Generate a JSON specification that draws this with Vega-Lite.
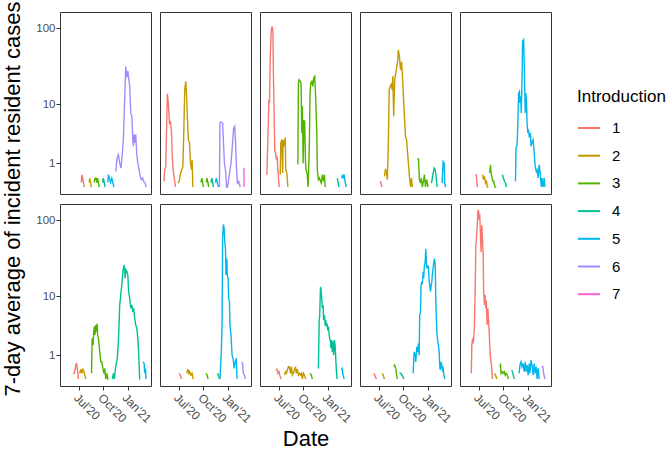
{
  "$schema": "https://vega.github.io/schema/vega-lite/v6.json",
  "padding": {"left": 1, "top": 1, "right": 0, "bottom": 0},
  "bounds": "flush",
  "data": {
    "values": [
      {"r":1,"c":1,"i":1,"d":"2020-07-09","v":0.14},{"r":1,"c":1,"i":1,"d":"2020-07-11","v":0.43},{"r":1,"c":1,"i":1,"d":"2020-07-14","v":0.29},{"r":1,"c":1,"i":1,"d":"2020-07-17","v":0.14},{"r":1,"c":1,"i":1,"d":"2020-07-20","v":0},
      {"r":1,"c":1,"i":2,"d":"2020-08-08","v":0.14},{"r":1,"c":1,"i":2,"d":"2020-08-10","v":0.29},{"r":1,"c":1,"i":2,"d":"2020-08-13","v":0.14},{"r":1,"c":1,"i":2,"d":"2020-08-16","v":0},
      {"r":1,"c":1,"i":3,"d":"2020-08-27","v":0.14},{"r":1,"c":1,"i":3,"d":"2020-08-30","v":0.29},{"r":1,"c":1,"i":3,"d":"2020-09-03","v":0.29},{"r":1,"c":1,"i":3,"d":"2020-09-06","v":0.14},{"r":1,"c":1,"i":3,"d":"2020-09-09","v":0.29},{"r":1,"c":1,"i":3,"d":"2020-09-12","v":0.14},{"r":1,"c":1,"i":3,"d":"2020-09-15","v":0},
      {"r":1,"c":1,"i":4,"d":"2020-09-28","v":0.14},{"r":1,"c":1,"i":4,"d":"2020-10-01","v":0.29},{"r":1,"c":1,"i":4,"d":"2020-10-04","v":0.14},{"r":1,"c":1,"i":4,"d":"2020-10-07","v":0},
      {"r":1,"c":1,"i":5,"d":"2020-10-18","v":0.14},{"r":1,"c":1,"i":5,"d":"2020-10-20","v":0.43},{"r":1,"c":1,"i":5,"d":"2020-10-24","v":0.29},{"r":1,"c":1,"i":5,"d":"2020-10-28","v":0.14},{"r":1,"c":1,"i":5,"d":"2020-11-02","v":0.29},{"r":1,"c":1,"i":5,"d":"2020-11-06","v":0.14},{"r":1,"c":1,"i":5,"d":"2020-11-10","v":0},
      {"r":1,"c":1,"i":6,"d":"2020-11-17","v":0.57},{"r":1,"c":1,"i":6,"d":"2020-11-22","v":1.32},{"r":1,"c":1,"i":6,"d":"2020-11-27","v":1.55},{"r":1,"c":1,"i":6,"d":"2020-12-02","v":1.0},{"r":1,"c":1,"i":6,"d":"2020-12-07","v":0.73},{"r":1,"c":1,"i":6,"d":"2020-12-12","v":1.68},{"r":1,"c":1,"i":6,"d":"2020-12-16","v":2.95},{"r":1,"c":1,"i":6,"d":"2020-12-20","v":9.4},{"r":1,"c":1,"i":6,"d":"2020-12-23","v":19.5},{"r":1,"c":1,"i":6,"d":"2020-12-25","v":32},{"r":1,"c":1,"i":6,"d":"2020-12-29","v":23},{"r":1,"c":1,"i":6,"d":"2021-01-02","v":28},{"r":1,"c":1,"i":6,"d":"2021-01-05","v":23},{"r":1,"c":1,"i":6,"d":"2021-01-09","v":17.6},{"r":1,"c":1,"i":6,"d":"2021-01-13","v":7.6},{"r":1,"c":1,"i":6,"d":"2021-01-17","v":6.8},{"r":1,"c":1,"i":6,"d":"2021-01-21","v":2.95},{"r":1,"c":1,"i":6,"d":"2021-01-23","v":2.26},{"r":1,"c":1,"i":6,"d":"2021-01-26","v":3.6},{"r":1,"c":1,"i":6,"d":"2021-01-30","v":2.6},{"r":1,"c":1,"i":6,"d":"2021-02-01","v":3.6},{"r":1,"c":1,"i":6,"d":"2021-02-05","v":1.55},{"r":1,"c":1,"i":6,"d":"2021-02-09","v":1.0},{"r":1,"c":1,"i":6,"d":"2021-02-14","v":0.65},{"r":1,"c":1,"i":6,"d":"2021-02-18","v":0.36},{"r":1,"c":1,"i":6,"d":"2021-02-22","v":0.24},{"r":1,"c":1,"i":6,"d":"2021-02-27","v":0.3},{"r":1,"c":1,"i":6,"d":"2021-03-03","v":0.18},{"r":1,"c":1,"i":6,"d":"2021-03-08","v":0.12},{"r":1,"c":1,"i":6,"d":"2021-03-13","v":0},

      {"r":1,"c":2,"i":1,"d":"2020-05-04","v":0.18},{"r":1,"c":2,"i":1,"d":"2020-05-07","v":0.65},{"r":1,"c":2,"i":1,"d":"2020-05-11","v":0.82},{"r":1,"c":2,"i":1,"d":"2020-05-15","v":6.8},{"r":1,"c":2,"i":1,"d":"2020-05-17","v":14},{"r":1,"c":2,"i":1,"d":"2020-05-21","v":10},{"r":1,"c":2,"i":1,"d":"2020-05-25","v":5.4},{"r":1,"c":2,"i":1,"d":"2020-05-29","v":5.6},{"r":1,"c":2,"i":1,"d":"2020-06-02","v":3.8},{"r":1,"c":2,"i":1,"d":"2020-06-04","v":1.68},{"r":1,"c":2,"i":1,"d":"2020-06-08","v":0.65},{"r":1,"c":2,"i":1,"d":"2020-06-12","v":0.3},{"r":1,"c":2,"i":1,"d":"2020-06-17","v":0},
      {"r":1,"c":2,"i":2,"d":"2020-06-26","v":0.12},{"r":1,"c":2,"i":2,"d":"2020-07-01","v":0.18},{"r":1,"c":2,"i":2,"d":"2020-07-06","v":0.5},{"r":1,"c":2,"i":2,"d":"2020-07-11","v":0.65},{"r":1,"c":2,"i":2,"d":"2020-07-15","v":0.82},{"r":1,"c":2,"i":2,"d":"2020-07-19","v":4.8},{"r":1,"c":2,"i":2,"d":"2020-07-22","v":15.9},{"r":1,"c":2,"i":2,"d":"2020-07-26","v":20.5},{"r":1,"c":2,"i":2,"d":"2020-07-29","v":13},{"r":1,"c":2,"i":2,"d":"2020-08-02","v":5.4},{"r":1,"c":2,"i":2,"d":"2020-08-05","v":2.95},{"r":1,"c":2,"i":2,"d":"2020-08-09","v":2.6},{"r":1,"c":2,"i":2,"d":"2020-08-13","v":1.0},{"r":1,"c":2,"i":2,"d":"2020-08-17","v":0.65},{"r":1,"c":2,"i":2,"d":"2020-08-19","v":1.2},{"r":1,"c":2,"i":2,"d":"2020-08-22","v":0},
      {"r":1,"c":2,"i":3,"d":"2020-09-22","v":0.14},{"r":1,"c":2,"i":3,"d":"2020-09-25","v":0.29},{"r":1,"c":2,"i":3,"d":"2020-09-28","v":0.14},{"r":1,"c":2,"i":3,"d":"2020-10-01","v":0},
      {"r":1,"c":2,"i":3,"s":1,"d":"2020-10-12","v":0.14},{"r":1,"c":2,"i":3,"s":1,"d":"2020-10-15","v":0.29},{"r":1,"c":2,"i":3,"s":1,"d":"2020-10-18","v":0.14},{"r":1,"c":2,"i":3,"s":1,"d":"2020-10-21","v":0},
      {"r":1,"c":2,"i":4,"d":"2020-10-30","v":0.14},{"r":1,"c":2,"i":4,"d":"2020-11-02","v":0.29},{"r":1,"c":2,"i":4,"d":"2020-11-05","v":0.14},{"r":1,"c":2,"i":4,"d":"2020-11-08","v":0},
      {"r":1,"c":2,"i":5,"d":"2020-11-16","v":0.14},{"r":1,"c":2,"i":5,"d":"2020-11-19","v":0.29},{"r":1,"c":2,"i":5,"d":"2020-11-23","v":0.14},{"r":1,"c":2,"i":5,"d":"2020-11-27","v":0},
      {"r":1,"c":2,"i":6,"d":"2020-12-01","v":0},{"r":1,"c":2,"i":6,"d":"2020-12-03","v":5.4},{"r":1,"c":2,"i":6,"d":"2020-12-07","v":5.6},{"r":1,"c":2,"i":6,"d":"2020-12-13","v":5.4},{"r":1,"c":2,"i":6,"d":"2020-12-17","v":2.26},{"r":1,"c":2,"i":6,"d":"2020-12-20","v":1.0},{"r":1,"c":2,"i":6,"d":"2020-12-24","v":0.65},{"r":1,"c":2,"i":6,"d":"2020-12-28","v":0},{"r":1,"c":2,"i":6,"d":"2021-01-01","v":0},{"r":1,"c":2,"i":6,"d":"2021-01-05","v":0.24},{"r":1,"c":2,"i":6,"d":"2021-01-10","v":0.65},{"r":1,"c":2,"i":6,"d":"2021-01-14","v":1.0},{"r":1,"c":2,"i":6,"d":"2021-01-19","v":2.26},{"r":1,"c":2,"i":6,"d":"2021-01-24","v":4.5},{"r":1,"c":2,"i":6,"d":"2021-01-28","v":4.8},{"r":1,"c":2,"i":6,"d":"2021-02-01","v":2.26},{"r":1,"c":2,"i":6,"d":"2021-02-03","v":1.0},{"r":1,"c":2,"i":6,"d":"2021-02-07","v":0.12},{"r":1,"c":2,"i":6,"d":"2021-02-12","v":0.18},{"r":1,"c":2,"i":6,"d":"2021-02-18","v":0},
      {"r":1,"c":2,"i":7,"d":"2021-03-01","v":0.71},{"r":1,"c":2,"i":7,"d":"2021-03-04","v":0.71},{"r":1,"c":2,"i":7,"d":"2021-03-05","v":0},

      {"r":1,"c":3,"i":1,"d":"2020-05-15","v":0.43},{"r":1,"c":3,"i":1,"d":"2020-05-19","v":2.95},{"r":1,"c":3,"i":1,"d":"2020-05-23","v":11.6},{"r":1,"c":3,"i":1,"d":"2020-05-25","v":10.5},{"r":1,"c":3,"i":1,"d":"2020-05-28","v":43},{"r":1,"c":3,"i":1,"d":"2020-06-01","v":95},{"r":1,"c":3,"i":1,"d":"2020-06-04","v":105},{"r":1,"c":3,"i":1,"d":"2020-06-07","v":90},{"r":1,"c":3,"i":1,"d":"2020-06-09","v":26},{"r":1,"c":3,"i":1,"d":"2020-06-12","v":6.8},{"r":1,"c":3,"i":1,"d":"2020-06-14","v":1.96},{"r":1,"c":3,"i":1,"d":"2020-06-17","v":1.68},{"r":1,"c":3,"i":1,"d":"2020-06-21","v":1.2},{"r":1,"c":3,"i":1,"d":"2020-06-23","v":1.44},{"r":1,"c":3,"i":1,"d":"2020-06-27","v":0.5},{"r":1,"c":3,"i":1,"d":"2020-07-01","v":0},
      {"r":1,"c":3,"i":2,"d":"2020-07-05","v":0.43},{"r":1,"c":3,"i":2,"d":"2020-07-07","v":2.6},{"r":1,"c":3,"i":2,"d":"2020-07-11","v":2.95},{"r":1,"c":3,"i":2,"d":"2020-07-14","v":0.5},{"r":1,"c":3,"i":2,"d":"2020-07-16","v":2.95},{"r":1,"c":3,"i":2,"d":"2020-07-20","v":2.26},{"r":1,"c":3,"i":2,"d":"2020-07-24","v":3.2},{"r":1,"c":3,"i":2,"d":"2020-07-26","v":0.65},{"r":1,"c":3,"i":2,"d":"2020-07-30","v":0.5},{"r":1,"c":3,"i":2,"d":"2020-08-03","v":0},
      {"r":1,"c":3,"i":3,"d":"2020-09-10","v":0.92},{"r":1,"c":3,"i":3,"d":"2020-09-12","v":19.5},{"r":1,"c":3,"i":3,"d":"2020-09-15","v":21.5},{"r":1,"c":3,"i":3,"d":"2020-09-19","v":20.5},{"r":1,"c":3,"i":3,"d":"2020-09-22","v":19.5},{"r":1,"c":3,"i":3,"d":"2020-09-25","v":3.8},{"r":1,"c":3,"i":3,"d":"2020-09-27","v":9.4},{"r":1,"c":3,"i":3,"d":"2020-09-30","v":1.0},{"r":1,"c":3,"i":3,"d":"2020-10-03","v":6.0},{"r":1,"c":3,"i":3,"d":"2020-10-06","v":5.6},{"r":1,"c":3,"i":3,"d":"2020-10-09","v":1.0},{"r":1,"c":3,"i":3,"d":"2020-10-11","v":0.65},{"r":1,"c":3,"i":3,"d":"2020-10-15","v":0.5},{"r":1,"c":3,"i":3,"d":"2020-10-19","v":0},{"r":1,"c":3,"i":3,"d":"2020-10-21","v":0.65},{"r":1,"c":3,"i":3,"d":"2020-10-24","v":2.95},{"r":1,"c":3,"i":3,"d":"2020-10-26","v":12.9},{"r":1,"c":3,"i":3,"d":"2020-10-29","v":19.5},{"r":1,"c":3,"i":3,"d":"2020-11-02","v":20.5},{"r":1,"c":3,"i":3,"d":"2020-11-06","v":17.6},{"r":1,"c":3,"i":3,"d":"2020-11-09","v":22.5},{"r":1,"c":3,"i":3,"d":"2020-11-13","v":23.8},{"r":1,"c":3,"i":3,"d":"2020-11-16","v":14.3},{"r":1,"c":3,"i":3,"d":"2020-11-18","v":8.4},{"r":1,"c":3,"i":3,"d":"2020-11-21","v":3.8},{"r":1,"c":3,"i":3,"d":"2020-11-23","v":0.65},{"r":1,"c":3,"i":3,"d":"2020-11-27","v":0.24},{"r":1,"c":3,"i":3,"d":"2020-12-01","v":0.3},{"r":1,"c":3,"i":3,"d":"2020-12-05","v":0.18},{"r":1,"c":3,"i":3,"d":"2020-12-08","v":0.12},{"r":1,"c":3,"i":3,"d":"2020-12-12","v":0.43},{"r":1,"c":3,"i":3,"d":"2020-12-16","v":0.18},{"r":1,"c":3,"i":3,"d":"2020-12-20","v":0.43},{"r":1,"c":3,"i":3,"d":"2020-12-23","v":0},
      {"r":1,"c":3,"i":4,"d":"2021-02-07","v":0.29},{"r":1,"c":3,"i":4,"d":"2021-02-10","v":0.14},{"r":1,"c":3,"i":4,"d":"2021-02-13","v":0},
      {"r":1,"c":3,"i":5,"d":"2021-02-24","v":0.29},{"r":1,"c":3,"i":5,"d":"2021-02-27","v":0.43},{"r":1,"c":3,"i":5,"d":"2021-03-02","v":0.29},{"r":1,"c":3,"i":5,"d":"2021-03-05","v":0.43},{"r":1,"c":3,"i":5,"d":"2021-03-09","v":0.14},{"r":1,"c":3,"i":5,"d":"2021-03-13","v":0},

      {"r":1,"c":4,"i":1,"d":"2020-07-04","v":0.18},{"r":1,"c":4,"i":1,"d":"2020-07-08","v":0.12},{"r":1,"c":4,"i":1,"d":"2020-07-11","v":0},
      {"r":1,"c":4,"i":2,"d":"2020-07-21","v":0.36},{"r":1,"c":4,"i":2,"d":"2020-07-25","v":0.7},{"r":1,"c":4,"i":2,"d":"2020-07-29","v":0.5},{"r":1,"c":4,"i":2,"d":"2020-08-01","v":0.24},{"r":1,"c":4,"i":2,"d":"2020-08-05","v":2.95},{"r":1,"c":4,"i":2,"d":"2020-08-08","v":15.9},{"r":1,"c":4,"i":2,"d":"2020-08-12","v":17.6},{"r":1,"c":4,"i":2,"d":"2020-08-15","v":18.5},{"r":1,"c":4,"i":2,"d":"2020-08-19","v":15.9},{"r":1,"c":4,"i":2,"d":"2020-08-22","v":24},{"r":1,"c":4,"i":2,"d":"2020-08-25","v":6.8},{"r":1,"c":4,"i":2,"d":"2020-08-29","v":21.5},{"r":1,"c":4,"i":2,"d":"2020-09-02","v":26.4},{"r":1,"c":4,"i":2,"d":"2020-09-06","v":32},{"r":1,"c":4,"i":2,"d":"2020-09-09","v":37},{"r":1,"c":4,"i":2,"d":"2020-09-12","v":52.8},{"r":1,"c":4,"i":2,"d":"2020-09-16","v":43},{"r":1,"c":4,"i":2,"d":"2020-09-20","v":29},{"r":1,"c":4,"i":2,"d":"2020-09-24","v":37},{"r":1,"c":4,"i":2,"d":"2020-09-27","v":26},{"r":1,"c":4,"i":2,"d":"2020-10-01","v":12.9},{"r":1,"c":4,"i":2,"d":"2020-10-05","v":6.8},{"r":1,"c":4,"i":2,"d":"2020-10-09","v":3.3},{"r":1,"c":4,"i":2,"d":"2020-10-13","v":2.95},{"r":1,"c":4,"i":2,"d":"2020-10-16","v":1.96},{"r":1,"c":4,"i":2,"d":"2020-10-20","v":1.0},{"r":1,"c":4,"i":2,"d":"2020-10-24","v":0.36},{"r":1,"c":4,"i":2,"d":"2020-10-28","v":0},{"r":1,"c":4,"i":2,"d":"2020-11-01","v":0.3},{"r":1,"c":4,"i":2,"d":"2020-11-04","v":0},
      {"r":1,"c":4,"i":3,"d":"2020-11-25","v":1.2},{"r":1,"c":4,"i":3,"d":"2020-11-27","v":1.3},{"r":1,"c":4,"i":3,"d":"2020-12-01","v":0.24},{"r":1,"c":4,"i":3,"d":"2020-12-05","v":0.12},{"r":1,"c":4,"i":3,"d":"2020-12-08","v":0.3},{"r":1,"c":4,"i":3,"d":"2020-12-12","v":0},{"r":1,"c":4,"i":3,"d":"2020-12-16","v":0.18},{"r":1,"c":4,"i":3,"d":"2020-12-20","v":0.43},{"r":1,"c":4,"i":3,"d":"2020-12-24","v":0},{"r":1,"c":4,"i":3,"d":"2020-12-28","v":0.24},{"r":1,"c":4,"i":3,"d":"2021-01-03","v":0},
      {"r":1,"c":4,"i":4,"d":"2021-01-16","v":0.12},{"r":1,"c":4,"i":4,"d":"2021-01-21","v":0.43},{"r":1,"c":4,"i":4,"d":"2021-01-26","v":0.73},{"r":1,"c":4,"i":4,"d":"2021-01-30","v":0.65},{"r":1,"c":4,"i":4,"d":"2021-02-03","v":0.3},{"r":1,"c":4,"i":4,"d":"2021-02-06","v":0},
      {"r":1,"c":4,"i":5,"d":"2021-02-25","v":0.12},{"r":1,"c":4,"i":5,"d":"2021-03-01","v":1.1},{"r":1,"c":4,"i":5,"d":"2021-03-05","v":1.0},{"r":1,"c":4,"i":5,"d":"2021-03-07","v":0.12},{"r":1,"c":4,"i":5,"d":"2021-03-11","v":0},

      {"r":1,"c":5,"i":1,"d":"2020-06-17","v":0.43},{"r":1,"c":5,"i":1,"d":"2020-06-20","v":0.43},{"r":1,"c":5,"i":1,"d":"2020-06-24","v":0},
      {"r":1,"c":5,"i":2,"d":"2020-07-14","v":0.43},{"r":1,"c":5,"i":2,"d":"2020-07-17","v":0.24},{"r":1,"c":5,"i":2,"d":"2020-07-21","v":0.36},{"r":1,"c":5,"i":2,"d":"2020-07-25","v":0.12},{"r":1,"c":5,"i":2,"d":"2020-07-29","v":0.18},{"r":1,"c":5,"i":2,"d":"2020-08-01","v":0},{"r":1,"c":5,"i":2,"d":"2020-08-05","v":0},
      {"r":1,"c":5,"i":3,"d":"2020-08-10","v":0.5},{"r":1,"c":5,"i":3,"d":"2020-08-13","v":0.9},{"r":1,"c":5,"i":3,"d":"2020-08-15","v":0.5},{"r":1,"c":5,"i":3,"d":"2020-08-18","v":0.36},{"r":1,"c":5,"i":3,"d":"2020-08-22","v":0.18},{"r":1,"c":5,"i":3,"d":"2020-08-25","v":0.18},{"r":1,"c":5,"i":3,"d":"2020-08-30","v":0},{"r":1,"c":5,"i":3,"d":"2020-09-04","v":0},
      {"r":1,"c":5,"i":4,"d":"2020-09-27","v":0.43},{"r":1,"c":5,"i":4,"d":"2020-10-01","v":0.3},{"r":1,"c":5,"i":4,"d":"2020-10-05","v":0.18},{"r":1,"c":5,"i":4,"d":"2020-10-09","v":0.12},{"r":1,"c":5,"i":4,"d":"2020-10-13","v":0},
      {"r":1,"c":5,"i":5,"d":"2020-11-16","v":0.18},{"r":1,"c":5,"i":5,"d":"2020-11-18","v":2.1},{"r":1,"c":5,"i":5,"d":"2020-11-21","v":2.26},{"r":1,"c":5,"i":5,"d":"2020-11-23","v":2.95},{"r":1,"c":5,"i":5,"d":"2020-11-26","v":7.6},{"r":1,"c":5,"i":5,"d":"2020-11-28","v":14.3},{"r":1,"c":5,"i":5,"d":"2020-12-01","v":15},{"r":1,"c":5,"i":5,"d":"2020-12-03","v":10.5},{"r":1,"c":5,"i":5,"d":"2020-12-06","v":12.9},{"r":1,"c":5,"i":5,"d":"2020-12-08","v":7.6},{"r":1,"c":5,"i":5,"d":"2020-12-11","v":23.8},{"r":1,"c":5,"i":5,"d":"2020-12-13","v":68},{"r":1,"c":5,"i":5,"d":"2020-12-17","v":71},{"r":1,"c":5,"i":5,"d":"2020-12-20","v":26.4},{"r":1,"c":5,"i":5,"d":"2020-12-23","v":7.6},{"r":1,"c":5,"i":5,"d":"2020-12-25","v":14.3},{"r":1,"c":5,"i":5,"d":"2020-12-28","v":10.5},{"r":1,"c":5,"i":5,"d":"2020-12-30","v":5.4},{"r":1,"c":5,"i":5,"d":"2021-01-02","v":3.8},{"r":1,"c":5,"i":5,"d":"2021-01-04","v":4.3},{"r":1,"c":5,"i":5,"d":"2021-01-08","v":3.2},{"r":1,"c":5,"i":5,"d":"2021-01-12","v":3.8},{"r":1,"c":5,"i":5,"d":"2021-01-14","v":2.26},{"r":1,"c":5,"i":5,"d":"2021-01-18","v":2.7},{"r":1,"c":5,"i":5,"d":"2021-01-22","v":2.95},{"r":1,"c":5,"i":5,"d":"2021-01-26","v":1.68},{"r":1,"c":5,"i":5,"d":"2021-01-30","v":0.82},{"r":1,"c":5,"i":5,"d":"2021-02-03","v":0.57},{"r":1,"c":5,"i":5,"d":"2021-02-06","v":0.65},{"r":1,"c":5,"i":5,"d":"2021-02-10","v":0.3},{"r":1,"c":5,"i":5,"d":"2021-02-14","v":0.9},{"r":1,"c":5,"i":5,"d":"2021-02-18","v":0.5},{"r":1,"c":5,"i":5,"d":"2021-02-22","v":0},{"r":1,"c":5,"i":5,"d":"2021-02-25","v":0.3},{"r":1,"c":5,"i":5,"d":"2021-03-01","v":0},{"r":1,"c":5,"i":5,"d":"2021-03-05","v":0.3},{"r":1,"c":5,"i":5,"d":"2021-03-08","v":0},

      {"r":2,"c":1,"i":1,"d":"2020-06-08","v":0.18},{"r":2,"c":1,"i":1,"d":"2020-06-12","v":0.18},{"r":2,"c":1,"i":1,"d":"2020-06-16","v":0.36},{"r":2,"c":1,"i":1,"d":"2020-06-20","v":0.6},{"r":2,"c":1,"i":1,"d":"2020-06-22","v":0.5},{"r":2,"c":1,"i":1,"d":"2020-06-26","v":0.18},{"r":2,"c":1,"i":1,"d":"2020-06-28","v":0},
      {"r":2,"c":1,"i":2,"d":"2020-07-03","v":0.18},{"r":2,"c":1,"i":2,"d":"2020-07-07","v":0.33},{"r":2,"c":1,"i":2,"d":"2020-07-11","v":0.18},{"r":2,"c":1,"i":2,"d":"2020-07-15","v":0.33},{"r":2,"c":1,"i":2,"d":"2020-07-19","v":0.24},{"r":2,"c":1,"i":2,"d":"2020-07-22","v":0.12},{"r":2,"c":1,"i":2,"d":"2020-07-26","v":0},
      {"r":2,"c":1,"i":3,"d":"2020-08-17","v":0.18},{"r":2,"c":1,"i":3,"d":"2020-08-19","v":2.26},{"r":2,"c":1,"i":3,"d":"2020-08-23","v":1.68},{"r":2,"c":1,"i":3,"d":"2020-08-25","v":2.95},{"r":2,"c":1,"i":3,"d":"2020-08-28","v":3.6},{"r":2,"c":1,"i":3,"d":"2020-08-30","v":2.6},{"r":2,"c":1,"i":3,"d":"2020-09-02","v":3.8},{"r":2,"c":1,"i":3,"d":"2020-09-04","v":2.95},{"r":2,"c":1,"i":3,"d":"2020-09-07","v":4.0},{"r":2,"c":1,"i":3,"d":"2020-09-09","v":2.6},{"r":2,"c":1,"i":3,"d":"2020-09-12","v":2.26},{"r":2,"c":1,"i":3,"d":"2020-09-15","v":1.68},{"r":2,"c":1,"i":3,"d":"2020-09-17","v":1.2},{"r":2,"c":1,"i":3,"d":"2020-09-21","v":0.65},{"r":2,"c":1,"i":3,"d":"2020-09-25","v":0.65},{"r":2,"c":1,"i":3,"d":"2020-09-29","v":0.36},{"r":2,"c":1,"i":3,"d":"2020-10-03","v":0.18},{"r":2,"c":1,"i":3,"d":"2020-10-06","v":0.36},{"r":2,"c":1,"i":3,"d":"2020-10-10","v":0},{"r":2,"c":1,"i":3,"d":"2020-10-14","v":0.18},{"r":2,"c":1,"i":3,"d":"2020-10-18","v":0},{"r":2,"c":1,"i":3,"d":"2020-10-21","v":0},
      {"r":2,"c":1,"i":4,"d":"2020-11-04","v":0},{"r":2,"c":1,"i":4,"d":"2020-11-08","v":0.18},{"r":2,"c":1,"i":4,"d":"2020-11-12","v":0},{"r":2,"c":1,"i":4,"d":"2020-11-16","v":0.36},{"r":2,"c":1,"i":4,"d":"2020-11-19","v":0.57},{"r":2,"c":1,"i":4,"d":"2020-11-23","v":0.82},{"r":2,"c":1,"i":4,"d":"2020-11-27","v":1.96},{"r":2,"c":1,"i":4,"d":"2020-11-30","v":4.3},{"r":2,"c":1,"i":4,"d":"2020-12-02","v":7.6},{"r":2,"c":1,"i":4,"d":"2020-12-05","v":9.4},{"r":2,"c":1,"i":4,"d":"2020-12-07","v":11.6},{"r":2,"c":1,"i":4,"d":"2020-12-10","v":14.3},{"r":2,"c":1,"i":4,"d":"2020-12-12","v":17.6},{"r":2,"c":1,"i":4,"d":"2020-12-15","v":23},{"r":2,"c":1,"i":4,"d":"2020-12-19","v":26.4},{"r":2,"c":1,"i":4,"d":"2020-12-23","v":17.6},{"r":2,"c":1,"i":4,"d":"2020-12-25","v":23},{"r":2,"c":1,"i":4,"d":"2020-12-29","v":22},{"r":2,"c":1,"i":4,"d":"2021-01-02","v":19.5},{"r":2,"c":1,"i":4,"d":"2021-01-05","v":11.6},{"r":2,"c":1,"i":4,"d":"2021-01-09","v":9.4},{"r":2,"c":1,"i":4,"d":"2021-01-13","v":6.8},{"r":2,"c":1,"i":4,"d":"2021-01-17","v":7.6},{"r":2,"c":1,"i":4,"d":"2021-01-21","v":6.0},{"r":2,"c":1,"i":4,"d":"2021-01-24","v":6.8},{"r":2,"c":1,"i":4,"d":"2021-01-28","v":4.8},{"r":2,"c":1,"i":4,"d":"2021-02-01","v":3.8},{"r":2,"c":1,"i":4,"d":"2021-02-05","v":3.35},{"r":2,"c":1,"i":4,"d":"2021-02-09","v":2.26},{"r":2,"c":1,"i":4,"d":"2021-02-12","v":1.2},{"r":2,"c":1,"i":4,"d":"2021-02-16","v":0},{"r":2,"c":1,"i":4,"d":"2021-02-18","v":0},
      {"r":2,"c":1,"i":5,"d":"2021-03-01","v":0.65},{"r":2,"c":1,"i":5,"d":"2021-03-05","v":0.57},{"r":2,"c":1,"i":5,"d":"2021-03-07","v":0.18},{"r":2,"c":1,"i":5,"d":"2021-03-10","v":0.36},{"r":2,"c":1,"i":5,"d":"2021-03-12","v":0},

      {"r":2,"c":2,"i":1,"d":"2020-06-30","v":0.18},{"r":2,"c":2,"i":1,"d":"2020-07-05","v":0.12},{"r":2,"c":2,"i":1,"d":"2020-07-10","v":0},
      {"r":2,"c":2,"i":2,"d":"2020-07-30","v":0.18},{"r":2,"c":2,"i":2,"d":"2020-08-03","v":0.33},{"r":2,"c":2,"i":2,"d":"2020-08-07","v":0.18},{"r":2,"c":2,"i":2,"d":"2020-08-10","v":0.24},{"r":2,"c":2,"i":2,"d":"2020-08-14","v":0.12},{"r":2,"c":2,"i":2,"d":"2020-08-19","v":0.18},{"r":2,"c":2,"i":2,"d":"2020-08-23","v":0},
      {"r":2,"c":2,"i":3,"d":"2020-10-11","v":0.18},{"r":2,"c":2,"i":3,"d":"2020-10-15","v":0.12},{"r":2,"c":2,"i":3,"d":"2020-10-19","v":0},
      {"r":2,"c":2,"i":4,"d":"2020-11-23","v":0.18},{"r":2,"c":2,"i":4,"d":"2020-11-27","v":0.12},{"r":2,"c":2,"i":4,"d":"2020-12-01","v":0},
      {"r":2,"c":2,"i":5,"d":"2020-12-03","v":0},{"r":2,"c":2,"i":5,"d":"2020-12-08","v":1.2},{"r":2,"c":2,"i":5,"d":"2020-12-11","v":3.8},{"r":2,"c":2,"i":5,"d":"2020-12-13","v":58},{"r":2,"c":2,"i":5,"d":"2020-12-16","v":88},{"r":2,"c":2,"i":5,"d":"2020-12-19","v":78},{"r":2,"c":2,"i":5,"d":"2020-12-21","v":53},{"r":2,"c":2,"i":5,"d":"2020-12-24","v":43},{"r":2,"c":2,"i":5,"d":"2020-12-26","v":19.5},{"r":2,"c":2,"i":5,"d":"2020-12-29","v":32},{"r":2,"c":2,"i":5,"d":"2020-12-31","v":19},{"r":2,"c":2,"i":5,"d":"2021-01-03","v":17.6},{"r":2,"c":2,"i":5,"d":"2021-01-05","v":9.4},{"r":2,"c":2,"i":5,"d":"2021-01-08","v":8.4},{"r":2,"c":2,"i":5,"d":"2021-01-10","v":3.8},{"r":2,"c":2,"i":5,"d":"2021-01-14","v":2.6},{"r":2,"c":2,"i":5,"d":"2021-01-18","v":1.0},{"r":2,"c":2,"i":5,"d":"2021-01-22","v":0.82},{"r":2,"c":2,"i":5,"d":"2021-01-26","v":0.36},{"r":2,"c":2,"i":5,"d":"2021-01-30","v":0.65},{"r":2,"c":2,"i":5,"d":"2021-02-03","v":0.82},{"r":2,"c":2,"i":5,"d":"2021-02-06","v":0},
      {"r":2,"c":2,"i":6,"d":"2021-02-23","v":0.65},{"r":2,"c":2,"i":6,"d":"2021-02-27","v":0.57},{"r":2,"c":2,"i":6,"d":"2021-03-02","v":0.18},{"r":2,"c":2,"i":6,"d":"2021-03-06","v":0.12},{"r":2,"c":2,"i":6,"d":"2021-03-10","v":0},

      {"r":2,"c":3,"i":1,"d":"2020-06-18","v":0.3},{"r":2,"c":3,"i":1,"d":"2020-06-22","v":0.33},{"r":2,"c":3,"i":1,"d":"2020-06-26","v":0.18},{"r":2,"c":3,"i":1,"d":"2020-06-30","v":0.24},{"r":2,"c":3,"i":1,"d":"2020-07-03","v":0.12},{"r":2,"c":3,"i":1,"d":"2020-07-08","v":0},
      {"r":2,"c":3,"i":2,"d":"2020-07-21","v":0.12},{"r":2,"c":3,"i":2,"d":"2020-07-25","v":0.24},{"r":2,"c":3,"i":2,"d":"2020-07-29","v":0.18},{"r":2,"c":3,"i":2,"d":"2020-08-01","v":0.3},{"r":2,"c":3,"i":2,"d":"2020-08-05","v":0.43},{"r":2,"c":3,"i":2,"d":"2020-08-09","v":0.43},{"r":2,"c":3,"i":2,"d":"2020-08-13","v":0.18},{"r":2,"c":3,"i":2,"d":"2020-08-17","v":0.43},{"r":2,"c":3,"i":2,"d":"2020-08-20","v":0.12},{"r":2,"c":3,"i":2,"d":"2020-08-24","v":0.18},{"r":2,"c":3,"i":2,"d":"2020-08-28","v":0.3},{"r":2,"c":3,"i":2,"d":"2020-09-01","v":0.43},{"r":2,"c":3,"i":2,"d":"2020-09-04","v":0.18},{"r":2,"c":3,"i":2,"d":"2020-09-08","v":0.33},{"r":2,"c":3,"i":2,"d":"2020-09-12","v":0.12},{"r":2,"c":3,"i":2,"d":"2020-09-16","v":0.18},{"r":2,"c":3,"i":2,"d":"2020-09-20","v":0.12},{"r":2,"c":3,"i":2,"d":"2020-09-24","v":0.18},{"r":2,"c":3,"i":2,"d":"2020-09-27","v":0},{"r":2,"c":3,"i":2,"d":"2020-10-01","v":0.18},{"r":2,"c":3,"i":2,"d":"2020-10-05","v":0.12},{"r":2,"c":3,"i":2,"d":"2020-10-10","v":0},
      {"r":2,"c":3,"i":3,"d":"2020-10-27","v":0.18},{"r":2,"c":3,"i":3,"d":"2020-10-31","v":0.12},{"r":2,"c":3,"i":3,"d":"2020-11-04","v":0},
      {"r":2,"c":3,"i":4,"d":"2020-11-27","v":0.36},{"r":2,"c":3,"i":4,"d":"2020-11-30","v":4.3},{"r":2,"c":3,"i":4,"d":"2020-12-02","v":5.4},{"r":2,"c":3,"i":4,"d":"2020-12-05","v":13.5},{"r":2,"c":3,"i":4,"d":"2020-12-07","v":12.3},{"r":2,"c":3,"i":4,"d":"2020-12-10","v":9.4},{"r":2,"c":3,"i":4,"d":"2020-12-12","v":6.8},{"r":2,"c":3,"i":4,"d":"2020-12-15","v":7.6},{"r":2,"c":3,"i":4,"d":"2020-12-17","v":4.5},{"r":2,"c":3,"i":4,"d":"2020-12-20","v":5.4},{"r":2,"c":3,"i":4,"d":"2020-12-23","v":3.7},{"r":2,"c":3,"i":4,"d":"2020-12-25","v":4.5},{"r":2,"c":3,"i":4,"d":"2020-12-28","v":3.6},{"r":2,"c":3,"i":4,"d":"2020-12-30","v":4.0},{"r":2,"c":3,"i":4,"d":"2021-01-02","v":3.1},{"r":2,"c":3,"i":4,"d":"2021-01-04","v":3.6},{"r":2,"c":3,"i":4,"d":"2021-01-07","v":2.6},{"r":2,"c":3,"i":4,"d":"2021-01-09","v":2.26},{"r":2,"c":3,"i":4,"d":"2021-01-12","v":1.96},{"r":2,"c":3,"i":4,"d":"2021-01-14","v":1.44},{"r":2,"c":3,"i":4,"d":"2021-01-17","v":2.1},{"r":2,"c":3,"i":4,"d":"2021-01-19","v":1.2},{"r":2,"c":3,"i":4,"d":"2021-01-22","v":1.96},{"r":2,"c":3,"i":4,"d":"2021-01-24","v":1.0},{"r":2,"c":3,"i":4,"d":"2021-01-27","v":2.1},{"r":2,"c":3,"i":4,"d":"2021-01-30","v":1.55},{"r":2,"c":3,"i":4,"d":"2021-02-01","v":0.82},{"r":2,"c":3,"i":4,"d":"2021-02-03","v":0.36},{"r":2,"c":3,"i":4,"d":"2021-02-06","v":0},
      {"r":2,"c":3,"i":5,"d":"2021-02-22","v":0.3},{"r":2,"c":3,"i":5,"d":"2021-02-25","v":0.36},{"r":2,"c":3,"i":5,"d":"2021-03-01","v":0.12},{"r":2,"c":3,"i":5,"d":"2021-03-05","v":0},

      {"r":2,"c":4,"i":1,"d":"2020-06-11","v":0.18},{"r":2,"c":4,"i":1,"d":"2020-06-14","v":0.12},{"r":2,"c":4,"i":1,"d":"2020-06-20","v":0},
      {"r":2,"c":4,"i":2,"d":"2020-07-12","v":0.18},{"r":2,"c":4,"i":2,"d":"2020-07-16","v":0.12},{"r":2,"c":4,"i":2,"d":"2020-07-21","v":0},
      {"r":2,"c":4,"i":3,"d":"2020-08-25","v":0.43},{"r":2,"c":4,"i":3,"d":"2020-08-29","v":0.5},{"r":2,"c":4,"i":3,"d":"2020-09-02","v":0.36},{"r":2,"c":4,"i":3,"d":"2020-09-06","v":0.07},{"r":2,"c":4,"i":3,"d":"2020-09-09","v":0},
      {"r":2,"c":4,"i":4,"d":"2020-09-16","v":0.18},{"r":2,"c":4,"i":4,"d":"2020-09-21","v":0.18},{"r":2,"c":4,"i":4,"d":"2020-09-26","v":0.12},{"r":2,"c":4,"i":4,"d":"2020-10-03","v":0},
      {"r":2,"c":4,"i":5,"d":"2020-11-07","v":0.18},{"r":2,"c":4,"i":5,"d":"2020-11-11","v":1.2},{"r":2,"c":4,"i":5,"d":"2020-11-15","v":1.0},{"r":2,"c":4,"i":5,"d":"2020-11-17","v":0.65},{"r":2,"c":4,"i":5,"d":"2020-11-21","v":1.55},{"r":2,"c":4,"i":5,"d":"2020-11-25","v":1.2},{"r":2,"c":4,"i":5,"d":"2020-11-27","v":1.8},{"r":2,"c":4,"i":5,"d":"2020-11-30","v":1.0},{"r":2,"c":4,"i":5,"d":"2020-12-02","v":5.4},{"r":2,"c":4,"i":5,"d":"2020-12-05","v":6.0},{"r":2,"c":4,"i":5,"d":"2020-12-07","v":13.5},{"r":2,"c":4,"i":5,"d":"2020-12-10","v":15.9},{"r":2,"c":4,"i":5,"d":"2020-12-12","v":14.7},{"r":2,"c":4,"i":5,"d":"2020-12-15","v":21.5},{"r":2,"c":4,"i":5,"d":"2020-12-17","v":17.6},{"r":2,"c":4,"i":5,"d":"2020-12-20","v":26.4},{"r":2,"c":4,"i":5,"d":"2020-12-23","v":29},{"r":2,"c":4,"i":5,"d":"2020-12-25","v":43},{"r":2,"c":4,"i":5,"d":"2020-12-28","v":26.4},{"r":2,"c":4,"i":5,"d":"2020-12-30","v":23.8},{"r":2,"c":4,"i":5,"d":"2021-01-02","v":26.4},{"r":2,"c":4,"i":5,"d":"2021-01-04","v":23.8},{"r":2,"c":4,"i":5,"d":"2021-01-07","v":16.5},{"r":2,"c":4,"i":5,"d":"2021-01-09","v":14.3},{"r":2,"c":4,"i":5,"d":"2021-01-12","v":11.6},{"r":2,"c":4,"i":5,"d":"2021-01-14","v":13.5},{"r":2,"c":4,"i":5,"d":"2021-01-17","v":15.9},{"r":2,"c":4,"i":5,"d":"2021-01-19","v":19.5},{"r":2,"c":4,"i":5,"d":"2021-01-22","v":23.8},{"r":2,"c":4,"i":5,"d":"2021-01-24","v":27.7},{"r":2,"c":4,"i":5,"d":"2021-01-27","v":32},{"r":2,"c":4,"i":5,"d":"2021-01-30","v":26.4},{"r":2,"c":4,"i":5,"d":"2021-02-01","v":10},{"r":2,"c":4,"i":5,"d":"2021-02-03","v":5.4},{"r":2,"c":4,"i":5,"d":"2021-02-06","v":2.6},{"r":2,"c":4,"i":5,"d":"2021-02-09","v":1.96},{"r":2,"c":4,"i":5,"d":"2021-02-11","v":1.68},{"r":2,"c":4,"i":5,"d":"2021-02-14","v":1.2},{"r":2,"c":4,"i":5,"d":"2021-02-16","v":0.5},{"r":2,"c":4,"i":5,"d":"2021-02-18","v":0.3},{"r":2,"c":4,"i":5,"d":"2021-02-22","v":0.65},{"r":2,"c":4,"i":5,"d":"2021-02-24","v":0.5},{"r":2,"c":4,"i":5,"d":"2021-02-27","v":0.24},{"r":2,"c":4,"i":5,"d":"2021-03-01","v":0.43},{"r":2,"c":4,"i":5,"d":"2021-03-03","v":0.18},{"r":2,"c":4,"i":5,"d":"2021-03-07","v":0},

      {"r":2,"c":5,"i":1,"d":"2020-06-01","v":0.18},{"r":2,"c":5,"i":1,"d":"2020-06-03","v":1.68},{"r":2,"c":5,"i":1,"d":"2020-06-06","v":2.26},{"r":2,"c":5,"i":1,"d":"2020-06-08","v":1.8},{"r":2,"c":5,"i":1,"d":"2020-06-11","v":2.6},{"r":2,"c":5,"i":1,"d":"2020-06-13","v":3.8},{"r":2,"c":5,"i":1,"d":"2020-06-16","v":14.3},{"r":2,"c":5,"i":1,"d":"2020-06-18","v":43},{"r":2,"c":5,"i":1,"d":"2020-06-21","v":64},{"r":2,"c":5,"i":1,"d":"2020-06-23","v":78},{"r":2,"c":5,"i":1,"d":"2020-06-26","v":128},{"r":2,"c":5,"i":1,"d":"2020-06-28","v":135},{"r":2,"c":5,"i":1,"d":"2020-07-01","v":100},{"r":2,"c":5,"i":1,"d":"2020-07-03","v":120},{"r":2,"c":5,"i":1,"d":"2020-07-06","v":64},{"r":2,"c":5,"i":1,"d":"2020-07-08","v":39},{"r":2,"c":5,"i":1,"d":"2020-07-11","v":86},{"r":2,"c":5,"i":1,"d":"2020-07-13","v":64},{"r":2,"c":5,"i":1,"d":"2020-07-16","v":36},{"r":2,"c":5,"i":1,"d":"2020-07-18","v":11.6},{"r":2,"c":5,"i":1,"d":"2020-07-21","v":7.6},{"r":2,"c":5,"i":1,"d":"2020-07-23","v":10.5},{"r":2,"c":5,"i":1,"d":"2020-07-26","v":6.8},{"r":2,"c":5,"i":1,"d":"2020-07-28","v":8.8},{"r":2,"c":5,"i":1,"d":"2020-07-31","v":3.8},{"r":2,"c":5,"i":1,"d":"2020-08-03","v":6.8},{"r":2,"c":5,"i":1,"d":"2020-08-05","v":4.8},{"r":2,"c":5,"i":1,"d":"2020-08-08","v":2.95},{"r":2,"c":5,"i":1,"d":"2020-08-10","v":1.68},{"r":2,"c":5,"i":1,"d":"2020-08-13","v":0.82},{"r":2,"c":5,"i":1,"d":"2020-08-15","v":0.65},{"r":2,"c":5,"i":1,"d":"2020-08-18","v":0.36},{"r":2,"c":5,"i":1,"d":"2020-08-20","v":0},
      {"r":2,"c":5,"i":2,"d":"2020-08-28","v":0.18},{"r":2,"c":5,"i":2,"d":"2020-09-01","v":0.12},{"r":2,"c":5,"i":2,"d":"2020-09-06","v":0},
      {"r":2,"c":5,"i":3,"d":"2020-09-17","v":0.43},{"r":2,"c":5,"i":3,"d":"2020-09-20","v":0.5},{"r":2,"c":5,"i":3,"d":"2020-09-22","v":0.18},{"r":2,"c":5,"i":3,"d":"2020-09-26","v":0.24},{"r":2,"c":5,"i":3,"d":"2020-09-30","v":0.18},{"r":2,"c":5,"i":3,"d":"2020-10-04","v":0.24},{"r":2,"c":5,"i":3,"d":"2020-10-08","v":0.12},{"r":2,"c":5,"i":3,"d":"2020-10-11","v":0.18},{"r":2,"c":5,"i":3,"d":"2020-10-16","v":0.12},{"r":2,"c":5,"i":3,"d":"2020-10-20","v":0},
      {"r":2,"c":5,"i":4,"d":"2020-11-02","v":0.3},{"r":2,"c":5,"i":4,"d":"2020-11-06","v":0.18},{"r":2,"c":5,"i":4,"d":"2020-11-09","v":0.07},{"r":2,"c":5,"i":4,"d":"2020-11-12","v":0},
      {"r":2,"c":5,"i":5,"d":"2020-11-30","v":0.18},{"r":2,"c":5,"i":5,"d":"2020-12-03","v":0.5},{"r":2,"c":5,"i":5,"d":"2020-12-07","v":0.65},{"r":2,"c":5,"i":5,"d":"2020-12-11","v":0.43},{"r":2,"c":5,"i":5,"d":"2020-12-15","v":0.57},{"r":2,"c":5,"i":5,"d":"2020-12-19","v":0.24},{"r":2,"c":5,"i":5,"d":"2020-12-23","v":0.65},{"r":2,"c":5,"i":5,"d":"2020-12-26","v":0.24},{"r":2,"c":5,"i":5,"d":"2020-12-30","v":0.5},{"r":2,"c":5,"i":5,"d":"2021-01-03","v":0.12},{"r":2,"c":5,"i":5,"d":"2021-01-07","v":0.57},{"r":2,"c":5,"i":5,"d":"2021-01-10","v":0.18},{"r":2,"c":5,"i":5,"d":"2021-01-14","v":0.73},{"r":2,"c":5,"i":5,"d":"2021-01-18","v":0.5},{"r":2,"c":5,"i":5,"d":"2021-01-22","v":0.12},{"r":2,"c":5,"i":5,"d":"2021-01-26","v":0.57},{"r":2,"c":5,"i":5,"d":"2021-01-30","v":0.18},{"r":2,"c":5,"i":5,"d":"2021-02-03","v":0.43},{"r":2,"c":5,"i":5,"d":"2021-02-06","v":0},{"r":2,"c":5,"i":5,"d":"2021-02-10","v":0.36},{"r":2,"c":5,"i":5,"d":"2021-02-14","v":0},
      {"r":2,"c":5,"i":6,"d":"2021-02-24","v":0.43},{"r":2,"c":5,"i":6,"d":"2021-02-28","v":0.43},{"r":2,"c":5,"i":6,"d":"2021-03-03","v":0.18},{"r":2,"c":5,"i":6,"d":"2021-03-08","v":0}
    ]
  },
  "facet": {
    "row": {
      "field": "r", "type": "ordinal", "title": "7-day average of incident resident cases",
      "header": {"labels": false, "labelPadding": 0, "titleFontSize": 22, "titleFontWeight": "normal", "titleColor": "black", "titlePadding": 0}
    },
    "column": {
      "field": "c", "type": "ordinal", "title": "Date",
      "header": {"labels": false, "labelPadding": 0, "titleOrient": "bottom", "titleFontSize": 22, "titleFontWeight": "normal", "titleColor": "black", "titlePadding": -6}
    }
  },
  "spacing": {"row": 10, "column": 9},
  "spec": {
    "width": 91,
    "height": 182,
    "mark": {"type": "line", "strokeWidth": 1.4, "clip": true},
    "encoding": {
      "x": {
        "field": "d", "type": "temporal",
        "scale": {"type": "utc", "nice": false, "domain": [{"year": 2020, "month": 4, "date": 19, "utc": true}, {"year": 2021, "month": 3, "date": 31, "utc": true}]},
        "axis": {
          "title": null, "format": "%b'%y", "labelAngle": 45, "labelAlign": "left", "labelBaseline": "top", "labelOverlap": false,
          "values": [{"year": 2020, "month": 7, "date": 1, "utc": true}, {"year": 2020, "month": 10, "date": 1, "utc": true}, {"year": 2021, "month": 1, "date": 1, "utc": true}]
        }
      },
      "y": {
        "field": "v", "type": "quantitative",
        "scale": {"type": "symlog", "constant": 1, "domain": [-0.225, 160], "nice": false, "zero": false},
        "axis": {"title": null, "values": [1, 10, 100], "format": "d", "labelPadding": 1, "labelFontSize": 11.5}
      },
      "color": {
        "field": "i", "type": "nominal",
        "scale": {"domain": [1, 2, 3, 4, 5, 6, 7], "range": ["#F8766D", "#C49A00", "#53B400", "#00C094", "#00B6EB", "#A58AFF", "#FB61D7"]},
        "legend": {
          "title": "Introduction", "orient": "none", "legendX": 517, "legendY": 77,
          "titleFontSize": 17, "titleFontWeight": "normal", "titleColor": "black", "titlePadding": 10,
          "labelFontSize": 15, "labelColor": "black", "labelOffset": 11,
          "symbolType": "stroke", "symbolSize": 484, "symbolStrokeWidth": 2, "rowPadding": 7.7
        }
      },
      "detail": {"field": "s"}
    }
  },
  "config": {
    "font": "Liberation Sans",
    "view": {"stroke": "#333333", "strokeWidth": 1},
    "axis": {"domain": false, "grid": false, "ticks": true, "tickColor": "#333333", "tickSize": 4, "labelColor": "#4D4D4D", "labelFontSize": 12, "labelPadding": 2}
  }
}
